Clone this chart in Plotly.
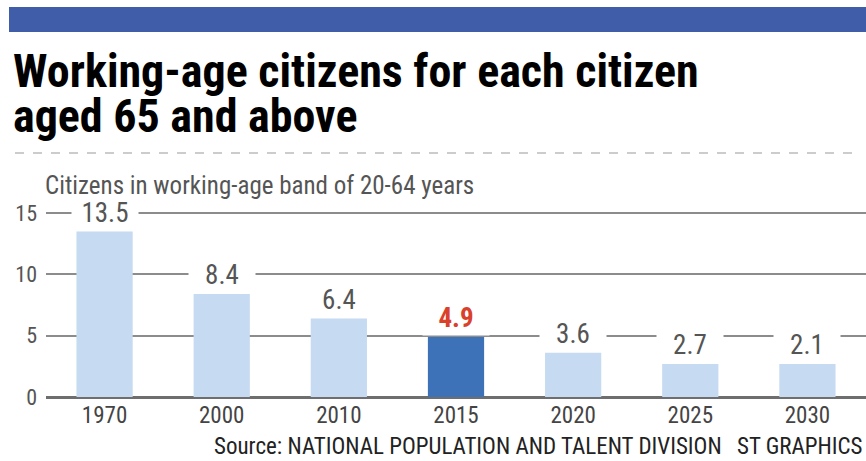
import plotly.graph_objects as go

years = ["1970", "2000", "2010", "2015", "2020", "2025", "2030"]
# bar heights as drawn in the reference (the 2030 bar is drawn at the 2025 height)
bar_heights = [13.5, 8.4, 6.4, 4.9, 3.6, 2.7, 2.7]
value_labels = ["13.5", "8.4", "6.4", "4.9", "3.6", "2.7", "2.1"]
highlight_year = "2015"
y_ticks = [0, 5, 10, 15]

title_lines = ["Working-age citizens for each citizen", "aged 65 and above"]
subtitle = "Citizens in working-age band of 20-64 years"
source = "Source: NATIONAL POPULATION AND TALENT DIVISION"
credit = "ST GRAPHICS"

NARROW = "Roboto Condensed, Liberation Sans Narrow, DejaVu Sans Condensed, Arial Narrow, sans-serif"
LIGHT = "#C6DAF2"
DARK = "#3E72B8"
RED = "#D9412B"

colors = [DARK if y == highlight_year else LIGHT for y in years]

fig = go.Figure(go.Bar(x=years, y=bar_heights, marker=dict(color=colors, line=dict(width=0)),
                       width=0.48, hoverinfo="skip"))

# plot area geometry
L, R, T, B = 46, 0, 207, 64
W = 866 - L - R
H = 461 - T - B
def px(x):
    return (x - L) / W
def py(y):
    return (461 - B - y) / H

for i, (yr, h, lab) in enumerate(zip(years, bar_heights, value_labels)):
    hl = yr == highlight_year
    fig.add_annotation(x=i, y=h, xref="x", yref="y", text=lab, showarrow=False,
                       yanchor="bottom", yshift=1, bgcolor="white", borderpad=1,
                       width=64,
                       font=dict(family=NARROW, size=27, color=RED if hl else "#555555",
                                 weight="bold" if hl else "normal"))

fig.add_annotation(xref="paper", yref="paper", x=px(11), y=py(71), xanchor="left", yanchor="middle",
                   text="<b>" + title_lines[0] + "</b>", showarrow=False,
                   font=dict(family=NARROW, size=46, color="#000000"))
fig.add_annotation(xref="paper", yref="paper", x=px(11), y=py(116), xanchor="left", yanchor="middle",
                   text="<b>" + title_lines[1] + "</b>", showarrow=False,
                   font=dict(family=NARROW, size=46, color="#000000"))
fig.add_annotation(xref="paper", yref="paper", x=px(43), y=py(185), xanchor="left", yanchor="middle",
                   text=subtitle, showarrow=False,
                   font=dict(family=NARROW, size=25, color="#555555"))
fig.add_annotation(xref="paper", yref="paper", x=px(724), y=py(446), xanchor="right", yanchor="middle",
                   text=source, showarrow=False,
                   font=dict(family=NARROW, size=23, color="#222222"))
fig.add_annotation(xref="paper", yref="paper", x=px(865), y=py(446), xanchor="right", yanchor="middle",
                   text=credit, showarrow=False,
                   font=dict(family=NARROW, size=23, color="#222222"))

fig.add_shape(type="rect", xref="paper", yref="paper", x0=px(9), x1=px(866), y0=py(32), y1=py(7),
              fillcolor="#3F5DA8", line=dict(width=0), layer="above")
fig.add_shape(type="line", xref="paper", yref="paper", x0=px(15), x1=px(860), y0=py(153), y1=py(153),
              line=dict(color="#9A9A9A", width=1.2, dash="dash"))

fig.update_layout(
    width=866, height=461,
    margin=dict(l=L, r=R, t=T, b=B),
    paper_bgcolor="white", plot_bgcolor="white",
    showlegend=False, bargap=0.52,
    xaxis=dict(type="category", range=[-0.5, len(years) - 0.5], showgrid=False, showline=False,
               ticks="", zeroline=False,
               tickfont=dict(family=NARROW, size=23, color="#444444"),
               ticklabelstandoff=2, fixedrange=True),
    yaxis=dict(range=[0, 15.5], tickvals=y_ticks, showgrid=True, gridcolor="#8C8C8C", gridwidth=1.5,
               zeroline=True, zerolinecolor="#6E6E6E", zerolinewidth=3,
               showline=False, ticks="", ticklabelstandoff=8,
               tickfont=dict(family=NARROW, size=22, color="#555555"), fixedrange=True),
)

fig.write_html("out.html", config={"displayModeBar": False},
               post_script="document.body.style.margin='0';")
